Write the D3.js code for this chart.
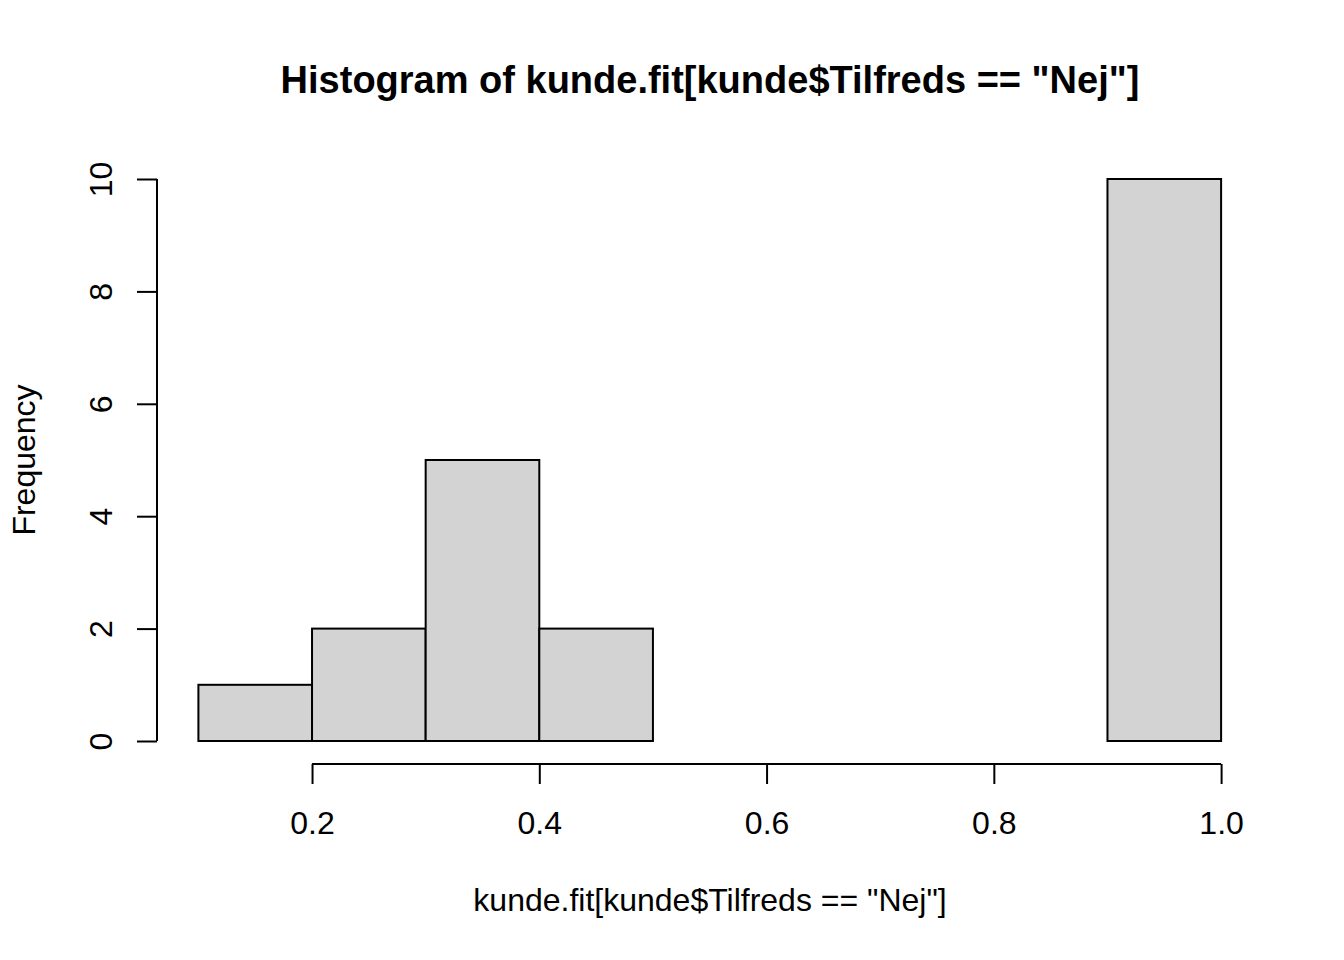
<!DOCTYPE html>
<html><head><meta charset="utf-8">
<script src="https://cdn.jsdelivr.net/npm/d3@7"></script>
<style>body{margin:0;background:#fff}svg{display:block}text{font-family:"Liberation Sans",Arial,sans-serif;fill:#000}</style>
</head><body><svg id="c" width="1344" height="960"></svg>
<script>
const binStarts = [0.1,0.2,0.3,0.4,0.5,0.6,0.7,0.8,0.9];
const binEnds   = [0.2,0.3,0.4,0.5,0.6,0.7,0.8,0.9,1.0];
const counts    = [1,2,5,2,0,0,0,0,10];
const xTicks = [0.2,0.4,0.6,0.8,1.0];
const yTicks = [0,2,4,6,8,10];
const title = 'Histogram of kunde.fit[kunde$Tilfreds == "Nej"]';
const xLabel = 'kunde.fit[kunde$Tilfreds == "Nej"]';
const yLabel = 'Frequency';

const svg = d3.select("#c");
const x = d3.scaleLinear().domain([0.1,1.0]).range([198.4,1221.1]);
const y = d3.scaleLinear().domain([0,10]).range([741,179]);

svg.append("g").selectAll("rect").data(counts).join("rect")
  .attr("x",(d,i)=>x(binStarts[i])).attr("width",(d,i)=>x(binEnds[i])-x(binStarts[i]))
  .attr("y",d=>y(d)).attr("height",d=>y(0)-y(d))
  .attr("fill","#d3d3d3").attr("stroke","#000").attr("stroke-width",2);

const xa = svg.append("g").attr("transform","translate(0,764)")
  .call(d3.axisBottom(x).tickValues(xTicks).tickFormat(d3.format(".1f")).tickSizeOuter(0).tickSizeInner(20));
const ya = svg.append("g").attr("transform","translate(157,0)")
  .call(d3.axisLeft(y).tickValues(yTicks).tickFormat(d3.format("d")).tickSizeOuter(0).tickSizeInner(20));
xa.select(".domain").remove();
xa.insert("line",":first-child").attr("x1",x(xTicks[0])).attr("x2",x(xTicks[xTicks.length-1]))
  .attr("y1",0).attr("y2",0).attr("stroke","#000").attr("stroke-width",2);
ya.select(".domain").remove();
ya.insert("line",":first-child").attr("y1",y(yTicks[0])).attr("y2",y(yTicks[yTicks.length-1]))
  .attr("x1",0).attr("x2",0).attr("stroke","#000").attr("stroke-width",2);
[xa,ya].forEach(a=>{
  a.selectAll(".tick line").attr("stroke","#000").attr("stroke-width",2);
  a.selectAll(".tick text").attr("font-size",32).attr("font-family",'"Liberation Sans",Arial,sans-serif').attr("fill","#000");
});
xa.selectAll(".tick text").attr("y",70).attr("dy",0);
ya.selectAll(".tick text")
  .attr("text-anchor","middle")
  .attr("transform","translate(-45,0) rotate(-90)").attr("y",0).attr("x",0).attr("dy","0");

svg.append("text").attr("x",710).attr("y",93).attr("text-anchor","middle")
  .attr("font-size",38).attr("font-weight","bold").text(title);
svg.append("text").attr("x",710).attr("y",911).attr("text-anchor","middle")
  .attr("font-size",32).text(xLabel);
svg.append("text").attr("transform","translate(35,460) rotate(-90)").attr("text-anchor","middle")
  .attr("font-size",32).text(yLabel);
</script></body></html>
